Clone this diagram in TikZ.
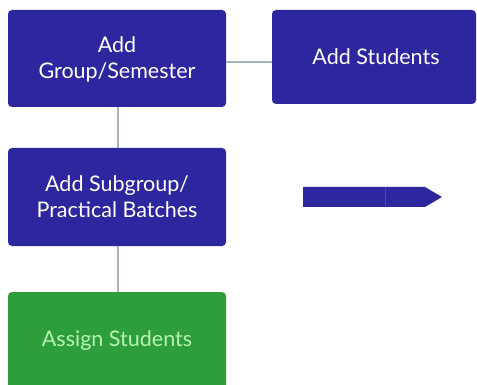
\documentclass[tikz,border=0pt]{standalone}
\usepackage{fontspec}
\setmainfont{Lato}
\definecolor{boxblue}{HTML}{2C279E}
\definecolor{boxgreen}{HTML}{2E9E3C}
\definecolor{greentext}{HTML}{B4F5B0}
\definecolor{linegray}{HTML}{A8B2C0}
\begin{document}
\begin{tikzpicture}[x=1pt,y=-1pt,
  box/.style={rounded corners=4pt,draw=none,align=center,text=white,font=\fontsize{21.5}{26}\selectfont,inner sep=0pt},
  conn/.style={draw=linegray,line width=2.5pt}]
\useasboundingbox (0,0) rectangle (477,385);
\clip (0,0) rectangle (477,385);
\fill[white] (0,0) rectangle (477,385);
\fill[boxblue,rounded corners=4pt] (8,10) rectangle (226,107);
\node[box] (a) at (117,59) {Add\\Group/Semester};
\fill[boxblue,rounded corners=4pt] (272,10) rectangle (476,104);
\node[box] (b) at (376,57) {Add Students};
\fill[boxblue,rounded corners=4pt] (8,148) rectangle (226,246);
\node[box] (c) at (117,197) {Add Subgroup/\\Practical Batches};
\fill[boxgreen,rounded corners=4pt] (8,292) rectangle (226,400);
\node[box,text=greentext] (d) at (117,341) {Assign Students};
\coordinate (ar) at (226,62);
\coordinate (br) at (272,62);
\draw[conn] (ar) -- (br);
\coordinate (a1) at (118,107);
\coordinate (c1) at (118,148);
\draw[conn] (a1) -- (c1);
\coordinate (c2) at (118,246);
\coordinate (d1) at (118,292);
\draw[conn] (c2) -- (d1);
\fill[boxblue] (303,187) -- (425,187) -- (442,197) -- (425,207) -- (303,207) -- cycle;
\draw[white,opacity=0.15,line width=0.6pt] (385,187) -- (385,207);
\end{tikzpicture}
\end{document}
